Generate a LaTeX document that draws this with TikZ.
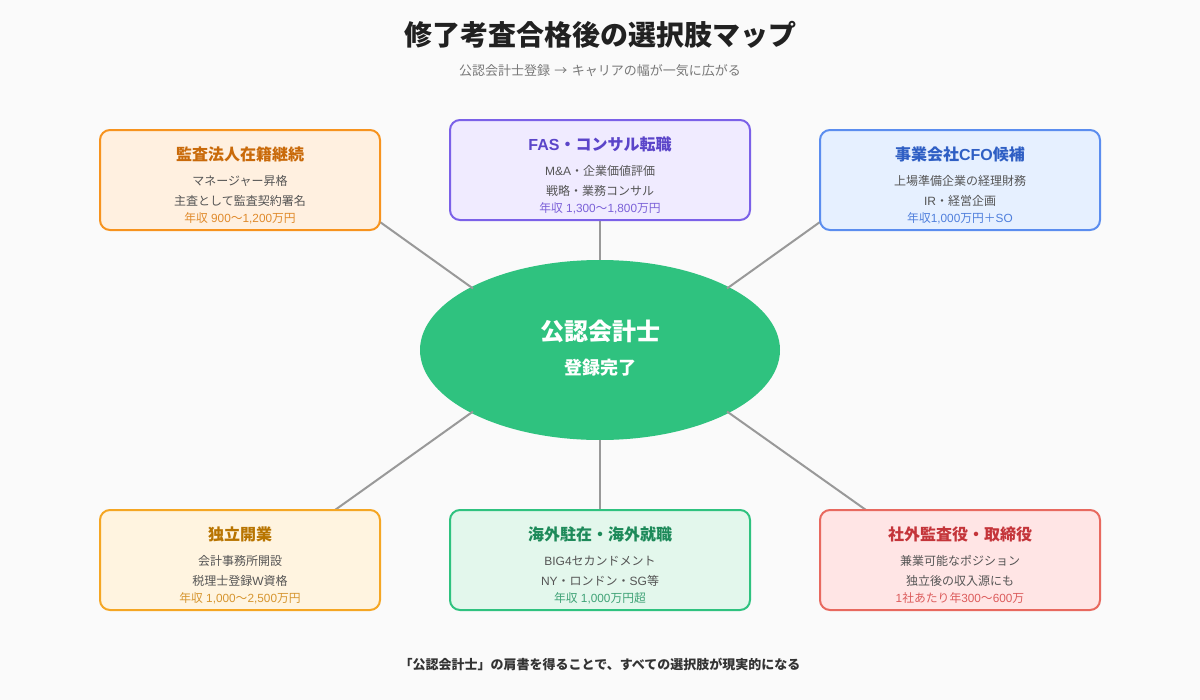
\documentclass[tikz,border=0pt]{standalone}
\usepackage{fontspec}
\setmainfont{Noto Sans CJK JP}
\newfontfamily\lt{Liberation Sans}
\usetikzlibrary{shapes.geometric}
\newcommand{\fsz}[1]{\fontsize{#1}{#1}\selectfont}
\definecolor{bgc}{HTML}{FAFAFA}
\definecolor{linec}{HTML}{999999}
\definecolor{greenc}{HTML}{2FC27F}
\definecolor{bodyc}{HTML}{555555}
\definecolor{oS}{HTML}{F7931E}\definecolor{oF}{HTML}{FFF0E0}\definecolor{oT}{HTML}{C96A0A}\definecolor{oM}{HTML}{E08A2B}
\definecolor{pS}{HTML}{7B61E8}\definecolor{pF}{HTML}{F0EBFF}\definecolor{pT}{HTML}{5B45C9}\definecolor{pM}{HTML}{7B61D8}
\definecolor{bS}{HTML}{5B8DEF}\definecolor{bF}{HTML}{E6F0FF}\definecolor{bT}{HTML}{2F5FC4}\definecolor{bM}{HTML}{4F7FDC}
\definecolor{yS}{HTML}{F5A623}\definecolor{yF}{HTML}{FFF4E0}\definecolor{yT}{HTML}{B87400}\definecolor{yM}{HTML}{D6952F}
\definecolor{gS}{HTML}{2FC27F}\definecolor{gF}{HTML}{E3F7EC}\definecolor{gT}{HTML}{1E8A5A}\definecolor{gM}{HTML}{3FA276}
\definecolor{rS}{HTML}{E8695F}\definecolor{rF}{HTML}{FFE5E5}\definecolor{rT}{HTML}{C4353A}\definecolor{rM}{HTML}{DC5C5C}
\tikzset{
 x=0.75pt,y=-0.75pt,
 cardbox/.style={draw=#1S,fill=#1F,line width=1.5pt,rounded corners=7.5pt,minimum height=75pt,inner sep=0pt},
 cardtitle/.style={anchor=base,inner sep=0pt,text=#1T,font=\fsz{12}\bfseries},
 cardbody/.style={anchor=base,inner sep=0pt,text=bodyc,font=\fsz{9}},
 cardmoney/.style={anchor=base,inner sep=0pt,text=#1M,font=\fsz{8.85}},
 link/.style={draw=linec,line width=1.5pt},
 hub/.style={ellipse,fill=greenc,minimum width=270pt,minimum height=135pt,inner sep=0pt},
}
\newcommand{\card}[8]{% name, colour, cx, top, width, title, l1, l2 
 \node[cardbox=#2,minimum width=#5*0.75pt] (#1) at (#3,#4+50) {};
 \node[cardtitle=#2] (#1t) at (#3,#4+30) {#6};
 \node[cardbody] (#1a) at (#3,#4+55) {#7};
 \node[cardbody] (#1b) at (#3,#4+75) {#8};
}
\begin{document}
\begin{tikzpicture}
\path[fill=bgc,use as bounding box] (0,0) rectangle (1200,700);
\node[hub] (hub) at (600,350) {};
\coordinate (pa) at (380,222);
\coordinate (pc) at (820,222);
\coordinate (pd) at (335,510);
\coordinate (pf) at (866,510);
\coordinate (ha) at (473,288.5);
\coordinate (hc) at (727,288.5);
\coordinate (hd) at (473,411.5);
\coordinate (hf) at (727,411.5);
\draw[link] (ha) -- (pa);
\draw[link] (hc) -- (pc);
\draw[link] (hd) -- (pd);
\draw[link] (hf) -- (pf);
\draw[link] (hub.north) -- (600,220);
\draw[link] (hub.south) -- (600,510);
\node[anchor=base,inner sep=0pt,text=white,font=\fsz{18}\bfseries] (h1) at (600,340) {公認会計士};
\node[anchor=base,inner sep=0pt,text=white,font=\fsz{13.5}\bfseries] (h2) at (600,374) {登録完了};
\node[anchor=base,inner sep=0pt,text=black!87,font=\fsz{21}\bfseries] (title) at (600,45) {修了考査合格後の選択肢マップ};
\node[anchor=base,inner sep=0pt,text=black!53,font=\fsz{9.75}] (sub) at (600,75) {公認会計士登録\hspace{3.3pt}→\hspace{3.3pt}キャリアの幅が一気に広がる};
\card{a}{o}{240}{130}{280}{監査法人在籍継続}{マネージャー昇格}{主査として監査契約署名}
\node[cardmoney=o] (am) at (240,222) {年収{\lt\ 900}〜{\lt 1,200}万円};
\card{b}{p}{600}{120}{300}{{\lt FAS}・コンサル転職}{{\lt M\&A}・企業価値評価}{戦略・業務コンサル}
\node[cardmoney=p] (bm) at (600,212) {年収{\lt\ 1,300}〜{\lt 1,800}万円};
\card{c}{b}{960}{130}{280}{事業会社{\lt CFO}候補}{上場準備企業の経理財務}{{\lt IR}・経営企画}
\node[cardmoney=b] (cm) at (960,222) {年収{\lt 1,000}万円＋{\lt SO}};
\card{d}{y}{240}{510}{280}{独立開業}{会計事務所開設}{税理士登録{\lt W}資格}
\node[cardmoney=y] (dm) at (240,602) {年収{\lt\ 1,000}〜{\lt 2,500}万円};
\card{e}{g}{600}{510}{300}{海外駐在・海外就職}{{\lt BIG4}セカンドメント}{{\lt NY}・ロンドン・{\lt SG}等}
\node[cardmoney=g] (em) at (600,602) {年収{\lt\ 1,000}万円超};
\card{f}{r}{960}{510}{280}{社外監査役・取締役}{兼業可能なポジション}{独立後の収入源にも}
\node[cardmoney=r] (fm) at (960,602) {{\lt 1}社あたり年{\lt 300}〜{\lt 600}万};
\node[anchor=base,inner sep=0pt,text=black!80,font=\fsz{9.75}\bfseries] (foot) at (600,669) {「公認会計士」の肩書を得ることで、すべての選択肢が現実的になる};
\end{tikzpicture}
\end{document}
